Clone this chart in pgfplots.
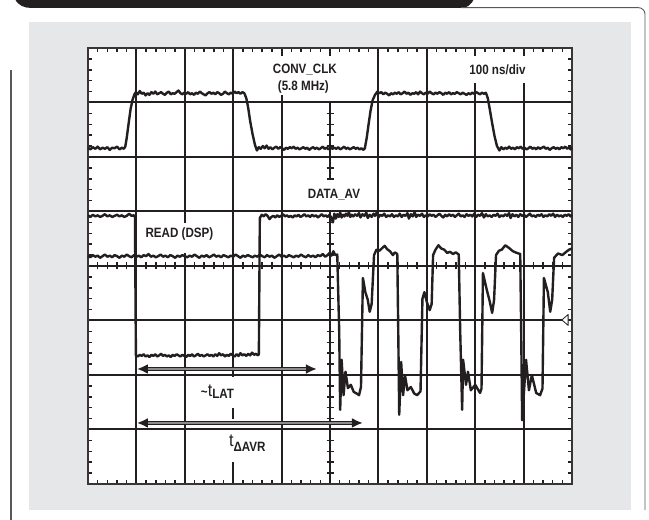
\documentclass[border=0pt]{standalone}
\usepackage{fontspec}
\setmainfont{Liberation Sans}
\usepackage{graphicx}
\usepackage{pgfplots}
\pgfplotsset{compat=1.18}
\usetikzlibrary{arrows.meta}
\definecolor{panel}{HTML}{E6E7E8}
\definecolor{ink}{HTML}{231F20}
\newcommand\lab[1]{\scalebox{0.86}[1]{\fontsize{13.5bp}{16bp}\selectfont\bfseries #1}}
\newcommand\bigt{\scalebox{0.9}[1]{\fontsize{18bp}{19bp}\selectfont t}}

\begin{document}
\begin{tikzpicture}[x=1bp,y=1bp]
\useasboundingbox (0,0) rectangle (649,520);
% page furniture
\fill[panel] (29,10) rectangle (631,498);
\fill[ink] (15,521) to[out=-65,in=180] (32,512) -- (461,512) to[out=0,in=-115] (474,521) -- cycle;
\draw[ink!75, line width=0.9bp] (461,512.4) -- (638,512.4) to[out=0,in=90] (645,506) -- (645,10);
\draw[ink!75, line width=1.2bp] (11,450) -- (11,0);
% screen
\fill[white] (88,36) rectangle (572,472);
\begin{scope}[ink, line width=2bp]
  \foreach \j in {1,...,7} \draw (88,36+54.5*\j) -- (572,36+54.5*\j);
  \draw (136.4,36) -- (136.4,472);
  \draw (184.8,36) -- (184.8,267) (184.8,297) -- (184.8,472);
  \draw (233.2,36) -- (233.2,58) (233.2,101) -- (233.2,112) (233.2,143) -- (233.2,472);
  \draw (281.6,36) -- (281.6,425) (281.6,464) -- (281.6,472);
  \draw (330,36) -- (330,309) (330,342) -- (330,418) (330,464) -- (330,472);
  \draw (378.4,36) -- (378.4,472);
  \draw (426.8,36) -- (426.8,472);
  \draw (475.2,36) -- (475.2,437) (475.2,464) -- (475.2,472);
  \draw (523.6,36) -- (523.6,437) (523.6,464) -- (523.6,472);
\end{scope}
\begin{scope}[ink, line width=1.5bp]
  \foreach \t in {1,...,39} {
    \draw (88,36+10.9*\t) -- ++(4,0);
    \draw (572,36+10.9*\t) -- ++(-4,0);
  }
  \foreach \t in {1,...,25,28,29,...,35}
    \draw (326.5,36+10.9*\t) -- ++(7,0);
  \foreach \t in {1,...,49} {
    \draw (88+9.68*\t,36) -- ++(0,4);
    \draw (88+9.68*\t,472) -- ++(0,-4);
    \draw (88+9.68*\t,250.5) -- ++(0,7);
  }
\end{scope}
\draw[ink!90, line width=1.3bp] (88,36) rectangle (572,472);

\begin{axis}[
    at={(88bp,36bp)}, anchor=south west,
    scale only axis, width=484bp, height=436bp,
    xmin=0, xmax=10, ymin=0, ymax=8,
    hide axis, clip=false,
    every axis plot/.append style={no markers, line join=round},
]
% CONV_CLK
\addplot[ink, line width=2.4bp] coordinates {
(0,6.17)(0.05,6.14)(0.1,6.18)(0.15,6.15)(0.2,6.19)(0.25,6.14)(0.3,6.17)(0.35,6.15)(0.4,6.18)(0.45,6.13)(0.5,6.17)(0.55,6.16)(0.6,6.19)(0.65,6.14)(0.7,6.17)(0.74,6.15)(0.77,6.19)
(0.80,6.35)(0.84,6.62)(0.88,6.88)(0.92,7.05)(0.96,7.15)(0.99,7.19)
(1.03,7.15)(1.07,7.21)(1.11,7.16)(1.15,7.18)(1.19,7.13)(1.23,7.17)(1.27,7.14)(1.31,7.19)(1.35,7.16)(1.39,7.2)(1.43,7.15)(1.47,7.17)(1.51,7.19)(1.55,7.16)(1.59,7.14)(1.63,7.18)(1.67,7.2)(1.71,7.15)(1.75,7.17)(1.79,7.16)(1.83,7.19)(1.87,7.22)(1.91,7.17)(1.95,7.15)(1.99,7.18)(2.03,7.16)(2.07,7.19)(2.11,7.15)(2.15,7.17)(2.19,7.14)(2.23,7.18)(2.27,7.16)(2.31,7.2)(2.35,7.17)(2.39,7.15)(2.43,7.13)(2.47,7.17)(2.51,7.19)(2.55,7.16)(2.59,7.18)(2.63,7.15)(2.67,7.19)(2.71,7.17)(2.75,7.14)(2.79,7.16)(2.83,7.2)(2.87,7.17)(2.91,7.15)(2.95,7.18)(2.99,7.16)(3.03,7.2)(3.07,7.17)(3.11,7.19)(3.15,7.16)(3.19,7.19)(3.23,7.17)
(3.27,7.08)(3.31,6.9)(3.35,6.66)(3.40,6.42)(3.45,6.22)(3.49,6.12)
(3.53,6.18)(3.57,6.15)(3.61,6.2)(3.65,6.16)(3.69,6.21)(3.73,6.15)(3.77,6.18)(3.81,6.14)(3.85,6.17)(3.89,6.19)(3.93,6.15)(3.97,6.18)(4.01,6.16)(4.05,6.13)(4.09,6.17)(4.13,6.15)(4.17,6.18)(4.21,6.16)(4.25,6.19)(4.29,6.15)(4.33,6.17)(4.37,6.14)(4.41,6.16)(4.45,6.18)(4.49,6.15)(4.53,6.17)(4.57,6.13)(4.61,6.16)(4.65,6.18)(4.69,6.15)(4.73,6.17)(4.77,6.14)(4.81,6.16)(4.85,6.19)(4.89,6.15)(4.93,6.17)(4.97,6.14)(5.01,6.18)(5.05,6.15)(5.09,6.17)(5.13,6.15)(5.17,6.18)(5.21,6.14)(5.25,6.16)(5.29,6.19)(5.33,6.15)(5.37,6.17)(5.41,6.14)(5.45,6.16)(5.49,6.18)(5.53,6.15)(5.57,6.17)(5.61,6.14)(5.65,6.16)(5.69,6.13)(5.72,6.16)
(5.76,6.36)(5.8,6.62)(5.84,6.86)(5.88,7.04)(5.93,7.14)(5.98,7.2)
(6.02,7.17)(6.06,7.19)(6.1,7.15)(6.14,7.18)(6.18,7.16)(6.22,7.13)(6.26,7.17)(6.3,7.15)(6.34,7.18)(6.38,7.16)(6.42,7.19)(6.46,7.15)(6.5,7.17)(6.54,7.2)(6.58,7.16)(6.62,7.18)(6.66,7.14)(6.7,7.17)(6.74,7.16)(6.78,7.19)(6.82,7.15)(6.86,7.2)(6.9,7.17)(6.94,7.15)(6.98,7.18)(7.02,7.16)(7.06,7.2)(7.1,7.17)(7.14,7.15)(7.18,7.18)(7.22,7.16)(7.26,7.19)(7.3,7.17)(7.34,7.14)(7.38,7.18)(7.42,7.16)(7.46,7.19)(7.5,7.15)(7.54,7.17)(7.58,7.16)(7.62,7.19)(7.66,7.17)(7.7,7.15)(7.74,7.18)(7.78,7.16)(7.82,7.14)(7.86,7.17)(7.9,7.15)(7.94,7.18)(7.98,7.16)(8.02,7.19)(8.06,7.17)(8.1,7.15)(8.14,7.18)(8.18,7.16)(8.22,7.18)
(8.26,7.08)(8.3,6.88)(8.35,6.62)(8.4,6.38)(8.45,6.2)(8.5,6.12)
(8.54,6.18)(8.58,6.14)(8.62,6.17)(8.66,6.15)(8.7,6.19)(8.74,6.15)(8.78,6.17)(8.82,6.14)(8.86,6.18)(8.9,6.16)(8.94,6.19)(8.98,6.15)(9.02,6.17)(9.06,6.14)(9.1,6.16)(9.14,6.19)(9.18,6.15)(9.22,6.17)(9.26,6.14)(9.3,6.18)(9.34,6.15)(9.38,6.17)(9.42,6.19)(9.46,6.15)(9.5,6.17)(9.54,6.13)(9.58,6.16)(9.62,6.18)(9.66,6.15)(9.7,6.17)(9.74,6.14)(9.78,6.18)(9.82,6.16)(9.86,6.19)(9.9,6.15)(9.94,6.18)(9.97,6.14)(10,6.17)
};
% READ (DSP)
\addplot[ink, line width=2.4bp] coordinates {
(0,4.93)(0.05,4.9)(0.1,4.94)(0.15,4.91)(0.2,4.93)(0.25,4.9)(0.3,4.92)(0.35,4.95)(0.4,4.91)(0.45,4.93)(0.5,4.9)(0.55,4.92)(0.6,4.94)(0.65,4.91)(0.7,4.93)(0.75,4.9)(0.8,4.92)(0.85,4.96)(0.9,4.92)(0.95,4.93)(0.97,4.9)
(0.99,2.36)
(1.03,2.34)(1.07,2.37)(1.11,2.35)(1.15,2.38)(1.19,2.34)(1.23,2.36)(1.27,2.33)(1.31,2.37)(1.35,2.35)(1.39,2.38)(1.43,2.34)(1.47,2.36)(1.51,2.39)(1.55,2.35)(1.59,2.37)(1.63,2.34)(1.67,2.36)(1.71,2.33)(1.75,2.37)(1.79,2.35)(1.83,2.38)(1.87,2.36)(1.91,2.34)(1.95,2.37)(1.99,2.35)(2.03,2.33)(2.07,2.37)(2.11,2.35)(2.15,2.38)(2.19,2.34)(2.23,2.36)(2.27,2.39)(2.31,2.35)(2.35,2.37)(2.39,2.34)(2.43,2.36)(2.47,2.38)(2.51,2.35)(2.55,2.37)(2.59,2.34)(2.63,2.38)(2.67,2.35)(2.71,2.4)(2.75,2.36)(2.79,2.38)(2.83,2.34)(2.87,2.37)(2.91,2.35)(2.95,2.39)(2.99,2.36)(3.03,2.34)(3.07,2.38)(3.11,2.35)(3.15,2.4)(3.19,2.36)(3.23,2.38)(3.27,2.35)(3.31,2.39)(3.35,2.36)(3.39,2.41)(3.43,2.37)(3.47,2.39)(3.51,2.36)(3.53,2.38)
(3.55,4.88)
(3.59,4.94)(3.63,4.91)(3.67,4.95)(3.71,4.92)(3.75,4.86)(3.79,4.9)(3.83,4.92)(3.87,4.89)(3.91,4.93)(3.95,4.9)(3.99,4.92)(4.03,4.95)(4.07,4.91)(4.11,4.93)(4.15,4.9)(4.19,4.92)(4.23,4.89)(4.27,4.93)(4.31,4.91)(4.35,4.94)(4.39,4.9)(4.43,4.92)(4.47,4.95)(4.51,4.91)(4.55,4.93)(4.59,4.9)(4.63,4.94)(4.67,4.91)(4.71,4.93)(4.75,4.89)(4.79,4.92)(4.83,4.95)(4.87,4.91)(4.91,4.93)(4.95,4.9)(4.99,4.94)(5.03,4.88)(5.06,4.8)(5.09,4.96)(5.12,4.87)(5.15,4.95)(5.18,4.9)(5.21,4.98)(5.24,4.89)(5.27,4.94)(5.3,4.91)(5.33,4.96)(5.36,4.92)(5.39,4.99)(5.42,4.9)(5.45,4.94)(5.48,4.91)(5.52,4.95)(5.56,4.92)(5.6,4.97)(5.63,4.89)(5.67,4.95)(5.71,4.92)(5.75,4.98)(5.78,4.88)(5.82,4.94)(5.86,4.9)(5.9,4.96)(5.93,4.92)(5.97,4.99)(6.0,4.89)(6.04,4.94)(6.08,4.92)(6.12,4.96)(6.16,4.9)(6.2,4.93)(6.24,4.91)(6.28,4.95)(6.32,4.9)(6.36,4.93)(6.4,4.91)(6.44,4.96)(6.48,4.9)(6.52,4.94)(6.56,4.92)(6.6,4.97)(6.63,4.87)(6.67,4.95)(6.71,4.91)(6.75,4.99)(6.78,4.9)(6.82,4.94)(6.86,4.92)(6.9,4.96)(6.94,4.9)(6.98,4.93)(7.02,4.91)(7.06,4.95)(7.1,4.92)(7.14,4.94)(7.18,4.9)(7.22,4.93)(7.26,4.96)(7.3,4.92)(7.34,4.89)(7.38,4.94)(7.42,4.91)(7.46,4.95)(7.5,4.92)(7.54,4.94)(7.58,4.9)(7.62,4.93)(7.66,4.96)(7.7,4.91)(7.74,4.93)(7.78,4.9)(7.82,4.95)(7.86,4.92)(7.9,4.94)(7.94,4.91)(7.98,4.96)(8.02,4.9)(8.06,4.94)(8.1,4.92)(8.14,4.97)(8.18,4.89)(8.22,4.95)(8.26,4.91)(8.3,4.93)(8.34,4.9)(8.38,4.94)(8.42,4.92)(8.46,4.96)(8.5,4.9)(8.54,4.93)(8.58,4.91)(8.62,4.95)(8.66,4.92)(8.7,4.97)(8.73,4.88)(8.77,4.95)(8.81,4.91)(8.85,4.94)(8.89,4.9)(8.93,4.95)(8.97,4.92)(9.01,4.94)(9.05,4.9)(9.09,4.93)(9.13,4.96)(9.17,4.91)(9.21,4.93)(9.25,4.9)(9.29,4.94)(9.33,4.92)(9.37,4.95)(9.41,4.9)(9.45,4.93)(9.49,4.91)(9.53,4.95)(9.57,4.92)(9.61,4.96)(9.65,4.9)(9.69,4.94)(9.73,4.91)(9.77,4.93)(9.81,4.9)(9.85,4.94)(9.89,4.92)(9.93,4.95)(9.97,4.91)(10,4.94)
};
% DATA_AV
\addplot[ink, line width=2.4bp] coordinates {
(0,4.19)(0.05,4.16)(0.1,4.2)(0.15,4.17)(0.2,4.19)(0.25,4.15)(0.3,4.18)(0.35,4.21)(0.4,4.17)(0.45,4.19)(0.5,4.16)(0.55,4.2)(0.6,4.18)(0.65,4.15)(0.7,4.19)(0.75,4.17)(0.8,4.21)(0.85,4.18)(0.9,4.16)(0.95,4.2)(1.0,4.17)(1.05,4.19)(1.1,4.16)(1.15,4.2)(1.2,4.18)(1.25,4.22)(1.3,4.17)(1.35,4.19)(1.4,4.16)(1.45,4.18)(1.5,4.21)(1.55,4.17)(1.6,4.19)(1.65,4.16)(1.7,4.2)(1.75,4.18)(1.8,4.15)(1.85,4.19)(1.9,4.17)(1.95,4.2)(2.0,4.18)(2.05,4.16)(2.1,4.19)(2.15,4.17)(2.2,4.21)(2.25,4.18)(2.3,4.15)(2.35,4.19)(2.4,4.17)(2.45,4.2)(2.5,4.16)(2.55,4.18)(2.6,4.21)(2.65,4.17)(2.7,4.19)(2.75,4.16)(2.8,4.2)(2.85,4.18)(2.9,4.16)(2.95,4.19)(3.0,4.17)(3.05,4.21)(3.1,4.18)(3.15,4.15)(3.2,4.19)(3.25,4.17)(3.3,4.2)(3.35,4.18)(3.4,4.16)(3.45,4.19)(3.5,4.17)(3.55,4.21)(3.6,4.18)(3.65,4.16)(3.7,4.2)(3.75,4.17)(3.8,4.19)(3.85,4.15)(3.9,4.18)(3.95,4.21)(4.0,4.17)(4.05,4.19)(4.1,4.16)(4.15,4.2)(4.2,4.18)(4.25,4.16)(4.3,4.19)(4.35,4.17)(4.4,4.21)(4.45,4.18)(4.5,4.16)(4.55,4.2)(4.6,4.17)(4.65,4.19)(4.7,4.16)(4.75,4.2)(4.8,4.18)(4.85,4.22)(4.9,4.17)(4.95,4.2)(4.99,4.24)(5.03,4.19)(5.07,4.27)(5.11,4.2)(5.15,4.21)
(5.19,2.8)(5.21,1.36)(5.24,2.28)(5.28,1.63)(5.32,2.06)(5.37,1.76)(5.43,1.82)(5.49,1.69)(5.55,1.66)(5.6,1.63)(5.64,1.78)
(5.68,3.78)(5.73,3.52)(5.78,3.38)(5.82,3.16)(5.86,3.3)(5.91,4.2)(5.96,4.3)(6.02,4.28)(6.08,4.33)(6.13,4.37)(6.18,4.31)(6.24,4.27)(6.3,4.2)(6.34,4.25)(6.39,4.22)
(6.41,2.8)(6.43,1.27)(6.47,2.24)(6.51,1.63)(6.55,1.99)(6.6,1.72)(6.67,1.78)(6.74,1.66)(6.8,1.63)(6.87,1.7)
(6.91,3.4)(6.95,3.52)(7.0,3.34)(7.06,3.19)(7.1,3.3)(7.13,4.2)(7.18,4.3)(7.24,4.38)(7.3,4.32)(7.36,4.3)(7.42,4.24)(7.48,4.26)(7.54,4.22)(7.6,4.25)(7.66,4.21)
(7.69,2.8)(7.73,1.36)(7.75,2.28)(7.81,1.82)(7.85,2.06)(7.91,1.72)(8.0,1.82)(8.1,1.67)(8.13,1.75)
(8.16,3.87)(8.24,3.56)(8.3,3.35)(8.35,3.14)(8.39,3.38)(8.43,4.2)(8.49,4.28)(8.55,4.3)(8.62,4.38)(8.7,4.33)(8.78,4.27)(8.86,4.24)(8.93,4.22)
(8.95,2.8)(8.97,1.17)(9.05,2.28)(9.11,1.72)(9.17,2.0)(9.26,1.67)(9.34,1.63)(9.39,1.75)
(9.42,3.78)(9.5,3.52)(9.55,3.16)(9.59,3.38)(9.63,4.15)(9.71,4.23)(9.8,4.2)(9.88,4.26)(9.94,4.3)(10,4.32)
};
% ground marker
\addplot[ink, line width=0.8bp, fill=white] coordinates {(9.79,3.01)(9.92,3.11)(9.92,2.91)(9.79,3.01)};
% arrows
\addplot[ink, line width=4bp, {Latex[length=11bp,width=10bp]}-{Latex[length=11bp,width=10bp]}] coordinates {(1.01,2.11)(4.73,2.11)};
\addplot[black!45, line width=1.4bp, shorten <=11bp, shorten >=11bp] coordinates {(1.01,2.11)(4.73,2.11)};
\addplot[ink, line width=4bp, {Latex[length=11bp,width=10bp]}-{Latex[length=11bp,width=10bp]}] coordinates {(1.01,1.12)(5.68,1.12)};
\addplot[black!45, line width=1.4bp, shorten <=11bp, shorten >=11bp] coordinates {(1.01,1.12)(5.68,1.12)};
% labels
\node[ink, inner sep=0pt] at (axis cs:4.48,7.60) {\lab{CONV\_CLK}};
\node[ink, inner sep=0pt] at (axis cs:4.45,7.29) {\lab{(5.8 MHz)}};
\node[ink, inner sep=0pt] at (axis cs:8.46,7.60) {\lab{100 ns/div}};
\node[ink, inner sep=0pt] at (axis cs:5.08,5.31) {\lab{DATA\_AV}};
\node[ink, inner sep=0pt] at (axis cs:1.89,4.59) {\lab{READ (DSP)}};
\node[ink, inner sep=0pt, anchor=base west] at (axis cs:2.33,1.60) {\lab{\textasciitilde}\bigt\raisebox{-2bp}{\lab{LAT}}};
\node[ink, inner sep=0pt, anchor=base west] at (axis cs:2.91,0.68) {\bigt\raisebox{-5bp}{\lab{ΔAVR}}};
\end{axis}
\end{tikzpicture}
\end{document}
